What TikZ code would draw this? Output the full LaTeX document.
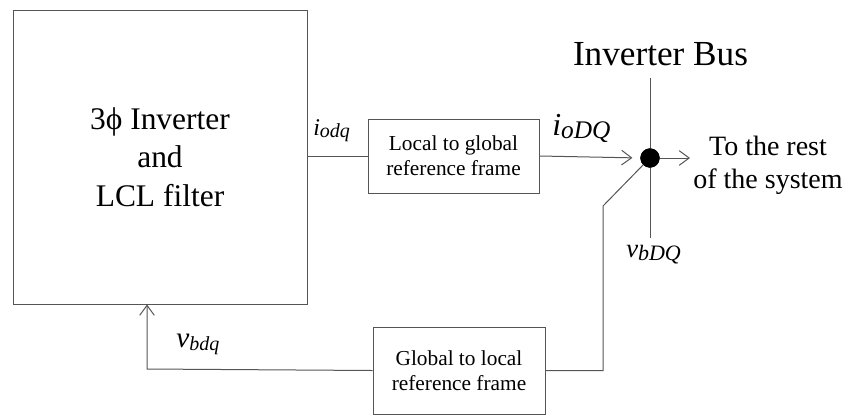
\documentclass[tikz,border=0pt]{standalone}
\usepackage{fontspec}
\setmainfont{LiberationSerif}[Extension=.ttf,UprightFont=*-Regular,ItalicFont=*-Italic,BoldFont=*-Bold,BoldItalicFont=*-BoldItalic]
\usetikzlibrary{arrows.meta,positioning}

% grandeur : taille, lettre, taille de l'indice, indice
\newcommand{\grandeur}[4]{{\itshape\fontsize{#1}{#1}\selectfont #2\raisebox{-0.12em}{\fontsize{#3}{#3}\selectfont #4}}}

\begin{document}
\begin{tikzpicture}[x=0.75pt,y=-0.75pt]
            \definecolor{mygray}{RGB}{85,85,85}
            \tikzstyle{bloc} = [rectangle,
            text centered,
            align=center,
            draw=mygray,
            line width=0.75pt,
            fill=white]
            \tikzstyle{fil} = [draw=mygray, line width=0.75pt]
            \tikzstyle{arrow} = [fil, -{Straight Barb[length=7.5pt,width=11pt]}]
            \tikzstyle{signal} = [inner sep=0pt, anchor=base west]
            \useasboundingbox (0,0) rectangle (849,415);

            \node (onduleur)[bloc, minimum width=220.5pt, minimum height=220.5pt,
                font=\fontsize{23.6}{28.9}\selectfont] at (160,157) {3ϕ Inverter\\and\\LCL filter};
            \node (loc2glob)[bloc, minimum width=128.25pt, minimum height=55.5pt,
                font=\fontsize{16}{19}\selectfont] at (453.5,156) {Local to global\\reference frame};
            \node (glob2loc)[bloc, minimum width=129pt, minimum height=65.25pt,
                font=\fontsize{16}{18.5}\selectfont] at (459,370.5) {Global to local\\reference frame};
            \node (bus)[circle, fill=black, draw=black, minimum size=14pt, inner sep=0pt] at (650,158) {};
            \node (titrebus)[anchor=base, inner sep=0pt, font=\fontsize{26.4}{30}\selectfont] at (660.5,65) {Inverter Bus};
            \node (reste)[anchor=north, inner sep=0pt, align=center,
                font=\fontsize{21}{24.75}\selectfont] at (768,136) {To the rest\\of the system};

            \coordinate (bushaut) at (650,78);
            \coordinate (busbas) at (650,238);
            \coordinate (sortie) at (690,158);
            \coordinate (coude) at (603,206);
            \coordinate (retour) at (147,369);

            \draw [fil] (bushaut) -- (busbas);
            \node[circle, fill=black, draw=black, minimum size=14pt, inner sep=0pt] at (bus) {};
            \draw [fil] (onduleur.east |- loc2glob.west) -- (loc2glob.west);
            \draw [arrow, shorten >=6pt] (loc2glob.east) -- (bus.west);
            \draw [arrow] (bus.east) -- (sortie);
            \draw [fil] (bus.south west) -- (coude) -- (coude |- glob2loc.east) -- (glob2loc.east);
            \draw [arrow] (glob2loc.west) -- (retour) -- (retour |- onduleur.south);

            \node (iodq)[signal] at (313,135) {\grandeur{18}{i}{15}{odq}};
            \node (ioDQ)[signal] at (552,135) {\grandeur{24}{i}{19}{oDQ}};
            \node (vbdq)[signal] at (176,347) {\grandeur{22}{v}{15}{bdq}};
            \node (vbDQ)[signal] at (626,257) {\grandeur{20}{v}{16.5}{bDQ}};
        \end{tikzpicture}
\end{document}
